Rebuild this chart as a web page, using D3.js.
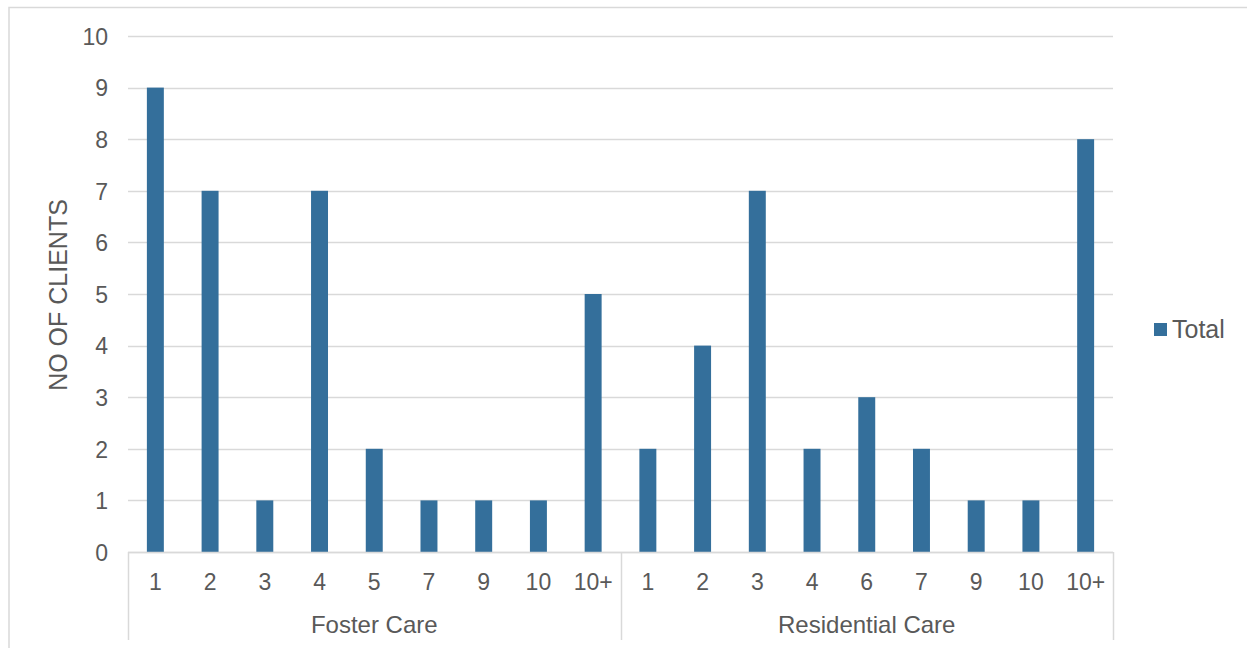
<!DOCTYPE html>
<html>
<head>
<meta charset="utf-8">
<script src="https://cdn.jsdelivr.net/npm/d3@7"></script>
<style>
  html, body { margin: 0; padding: 0; background: #fff; }
  svg { display: block; font-family: "Liberation Sans", Arial, sans-serif; }
</style>
</head>
<body>
<svg id="chart" width="1247" height="648"></svg>
<script>
// Number of placements per client, split by care type
const groups = ["Foster Care", "Residential Care"];
const fosterLabels = ["1", "2", "3", "4", "5", "7", "9", "10", "10+"];
const fosterValues = [9, 7, 1, 7, 2, 1, 1, 1, 5];
const residentialLabels = ["1", "2", "3", "4", "6", "7", "9", "10", "10+"];
const residentialValues = [2, 4, 7, 2, 3, 2, 1, 1, 8];
const yTicks = [0, 1, 2, 3, 4, 5, 6, 7, 8, 9, 10];
const seriesName = "Total";
const yTitle = "NO OF CLIENTS";

const rows = [
  ...fosterLabels.map((l, i) => ({ group: groups[0], label: l, value: fosterValues[i], key: groups[0] + "|" + l })),
  ...residentialLabels.map((l, i) => ({ group: groups[1], label: l, value: residentialValues[i], key: groups[1] + "|" + l }))
];

const svg = d3.select("#chart");
const barColor = "#346f9b";
const gridColor = "#d9d9d9";
const textColor = "#595959";
const fontSize = 23;

const plotLeft = 128, plotRight = 1113, plotTop = 36, plotBottom = 552;

// outer chart frame
svg.append("rect")
  .attr("x", 9).attr("y", 7.5)
  .attr("width", 1260).attr("height", 660)
  .attr("fill", "none").attr("stroke", gridColor).attr("stroke-width", 1.5);

const x = d3.scaleBand().domain(rows.map(d => d.key)).range([plotLeft, plotRight]).paddingInner(0.69).paddingOuter(0.345);
const y = d3.scaleLinear().domain([0, 10]).range([plotBottom, plotTop]);

// horizontal gridlines
svg.append("g").selectAll("line").data(yTicks).join("line")
  .attr("x1", plotLeft).attr("x2", plotRight)
  .attr("y1", d => Math.round(y(d)) + 0.5).attr("y2", d => Math.round(y(d)) + 0.5)
  .attr("stroke", gridColor).attr("stroke-width", 1.5);

// y-axis tick labels
const yAxis = d3.axisLeft(y).tickValues(yTicks).tickSize(0).tickPadding(20);
const yg = svg.append("g").attr("transform", `translate(${plotLeft},0)`).call(yAxis);
yg.select(".domain").remove();
yg.selectAll("text").attr("font-size", fontSize).attr("fill", textColor)
  .attr("font-family", "Liberation Sans, Arial, sans-serif").attr("dy", "0.36em");

// bars
svg.append("g").selectAll("rect").data(rows).join("rect")
  .attr("x", d => x(d.key))
  .attr("width", x.bandwidth())
  .attr("y", d => y(d.value))
  .attr("height", d => y(0) - y(d.value))
  .attr("fill", barColor);

// category axis: inner labels
const step = x.step();
const gap = step - x.bandwidth();
const xAxis = d3.axisBottom(x).tickSize(0).tickPadding(0).tickFormat(k => k.split("|")[1]);
const xg = svg.append("g").attr("transform", `translate(0,${plotBottom})`).call(xAxis);
xg.select(".domain").remove();
xg.selectAll("text").attr("font-size", fontSize).attr("fill", textColor)
  .attr("font-family", "Liberation Sans, Arial, sans-serif")
  .attr("dy", null).attr("y", 38);

// axis baseline
svg.append("line").attr("x1", plotLeft).attr("x2", plotRight)
  .attr("y1", plotBottom + 0.5).attr("y2", plotBottom + 0.5)
  .attr("stroke", gridColor).attr("stroke-width", 1.5);

// group separators and group labels
const groupBounds = groups.map(g => {
  const keys = rows.filter(r => r.group === g).map(r => r.key);
  return { g, x0: x(keys[0]) - gap / 2, x1: x(keys[keys.length - 1]) + x.bandwidth() + gap / 2 };
});
const seps = [plotLeft, groupBounds[0].x1, plotRight];
svg.append("g").selectAll("line").data(seps).join("line")
  .attr("x1", d => Math.round(d) + 0.5).attr("x2", d => Math.round(d) + 0.5)
  .attr("y1", plotBottom).attr("y2", 640)
  .attr("stroke", gridColor).attr("stroke-width", 1.5);

svg.append("g").selectAll("text").data(groupBounds).join("text")
  .attr("x", d => (Math.max(d.x0, plotLeft) + Math.min(d.x1, plotRight)) / 2)
  .attr("y", 633)
  .attr("text-anchor", "middle")
  .attr("font-size", 24).attr("fill", textColor)
  .text(d => d.g);

// y-axis title
svg.append("text")
  .attr("transform", `translate(${66.5},${295}) rotate(-90)`)
  .attr("text-anchor", "middle")
  .attr("font-size", 25).attr("fill", textColor)
  .text(yTitle);

// legend
const lg = svg.append("g").attr("transform", "translate(1154,323)");
lg.append("rect").attr("width", 13).attr("height", 13).attr("fill", barColor);
lg.append("text").attr("x", 18).attr("y", 14.5).attr("font-size", 25).attr("fill", textColor).text(seriesName);
</script>
</body>
</html>
